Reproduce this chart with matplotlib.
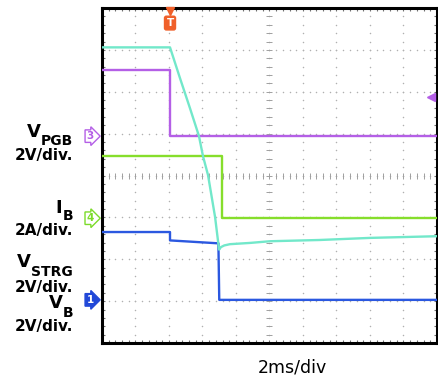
#!/usr/bin/env python3
"""Scope capture: power-good / battery / storage traces, 2 ms/div."""

import numpy as np
import matplotlib
matplotlib.use("Agg")
import matplotlib.pyplot as plt

W, H = 439, 381

# ------------------------------------------------------------------
# Trace data (time in ms, level in divisions from bottom of screen)
# ------------------------------------------------------------------
strg_t = [0, 4.06, 4.66, 5.25, 5.79, 6.03, 6.33, 6.75, 6.99, 7.1, 7.3, 7.64, 8.84, 10.03, 13.0, 16.0, 20.0]
strg_v = [7.06, 7.06, 6.32, 5.61, 4.94, 4.46, 4.01, 3.01, 2.23, 2.29, 2.33, 2.36, 2.39, 2.43, 2.46, 2.51, 2.55]

pgb_t = [0, 4.06, 4.06, 20.0]
pgb_v = [6.52, 6.52, 4.94, 4.94]

ib_t = [0, 7.16, 7.16, 20.0]
ib_v = [4.46, 4.46, 2.98, 2.98]

vb_t = [0, 4.06, 4.06, 6.95, 7.0, 20.0]
vb_v = [2.65, 2.65, 2.45, 2.38, 1.03, 1.03]

# channel ground markers: (label, level, colour, filled)
markers = [("3", 4.94, "#B45FE6", False), ("4", 2.98, "#7CDB2A", False), ("1", 1.03, "#2148D8", True)]
trig_t = 4.06
trig_level = 5.87

# left-hand labels: (main, subscript, scale, main baseline px, sub baseline px, scale baseline px)
labels = [
    ("V", "PGB", "2V/div.", 137, 145, 160),
    ("I", "B", "2A/div.", 213, 220, 235),
    ("V", "STRG", "2V/div.", 267, 276, 292),
    ("V", "B", "2V/div.", 308, 317, 331),
]

CYAN = "#72E8CA"
PURPLE = "#B45FE6"
GREEN = "#86DE2C"
BLUE = "#2B58E0"
ORANGE = "#F0602A"

fig = plt.figure(figsize=(W / 100, H / 100), dpi=100)
ax = fig.add_axes([102 / W, 1 - 343 / H, 335 / W, 335 / H])
ax.set_xlim(0, 20)
ax.set_ylim(0, 8)

# graticule dots
for gx in np.arange(0, 20.01, 2):
    ys = np.arange(0, 8.01, 0.2)
    ax.scatter(np.full_like(ys, gx), ys, s=1.2, color="#B0B0B0", lw=0, zorder=1)
for gy in np.arange(0, 8.01, 1):
    xs = np.arange(0, 20.01, 0.4)
    ax.scatter(xs, np.full_like(xs, gy), s=1.2, color="#B0B0B0", lw=0, zorder=1)

# centre crosshair ticks
xs = np.arange(0, 20.01, 0.4)
ax.plot(xs, np.full_like(xs, 4), ls="none", marker="|", ms=4.5, mew=0.7, color="#A0A0A0", zorder=1)
ys = np.arange(0, 8.01, 0.2)
ax.plot(np.full_like(ys, 10), ys, ls="none", marker="_", ms=4.5, mew=0.7, color="#A0A0A0", zorder=1)

# traces
ax.plot(pgb_t, pgb_v, color=PURPLE, lw=1.7, zorder=3)
ax.plot(ib_t, ib_v, color=GREEN, lw=1.7, zorder=3)
ax.plot(vb_t, vb_v, color=BLUE, lw=1.7, zorder=3)
ax.plot(strg_t, strg_v, color=CYAN, lw=1.7, zorder=4)

# frame and edge ticks
ax.set_xticks(np.arange(0, 20.01, 2))
ax.set_xticks(np.arange(0, 20.01, 0.4), minor=True)
ax.set_yticks(np.arange(0, 8.01, 1))
ax.set_yticks(np.arange(0, 8.01, 0.2), minor=True)
ax.tick_params(which="both", direction="in", length=2.5, width=0.8, color="#707070",
               top=True, right=True, labelbottom=False, labelleft=False)
for sp in ax.spines.values():
    sp.set_linewidth(2.2)

# channel markers on the left
for num, lvl, col, filled in markers:
    ax.annotate(num, xy=(-0.036, lvl), xycoords=("axes fraction", "data"),
                ha="center", va="center", fontsize=7.5, weight="bold",
                color="white" if filled else col, annotation_clip=False,
                bbox=dict(boxstyle="rarrow,pad=0.12", fc=col if filled else "white",
                          ec=col, lw=1.0))

# trigger markers
ax.plot([trig_t], [7.93], marker="v", ms=5.5, color=ORANGE, clip_on=False, zorder=5)
ax.annotate("T", xy=(trig_t, 7.64), ha="center", va="center", fontsize=7.5, weight="bold",
            color="white", annotation_clip=False,
            bbox=dict(boxstyle="round,pad=0.18", fc=ORANGE, ec=ORANGE))
ax.plot([19.65], [trig_level], marker="<", ms=5.5, color=PURPLE, clip_on=False, zorder=5)

# left labels with subscripts
renderer = fig.canvas.get_renderer()
right = 73
for main, sub, scale, yb_main, yb_sub, yb_scale in labels:
    t_sub = fig.text(right / W, 1 - yb_sub / H, sub, ha="right", va="baseline",
                     fontsize=10, weight="bold")
    bb = t_sub.get_window_extent(renderer)
    fig.text(bb.x0 / W, 1 - yb_main / H, main, ha="right", va="baseline",
             fontsize=13, weight="bold")
    fig.text(right / W, 1 - yb_scale / H, scale, ha="right", va="baseline",
             fontsize=11, weight="bold")

fig.text(292 / W, 1 - 373 / H, "2ms/div", ha="center", va="baseline", fontsize=12.5)

fig.savefig("out.png", dpi=100)
